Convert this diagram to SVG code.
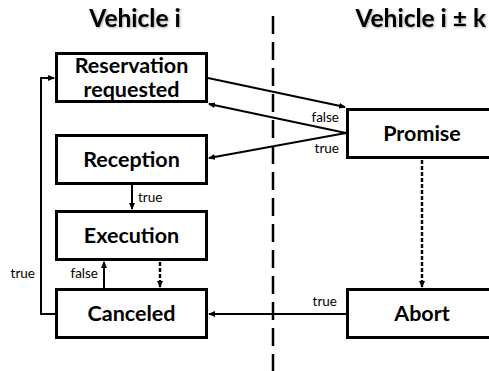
<svg xmlns="http://www.w3.org/2000/svg" width="489" height="371" viewBox="0 0 489 371">
  <style>
    .box { fill: #fff; stroke: #000; stroke-width: 3; }
    .lbl { font-family: Lato, "Open Sans", sans-serif; font-weight: bold; font-size: 21.5px; fill: #000; text-anchor: middle; }
    .title { font-family: Lato, "Open Sans", sans-serif; font-weight: bold; font-size: 24.5px; fill: #000; }
    .small { font-family: Lato, "Open Sans", sans-serif; font-size: 13.5px; fill: #000; }
    .edge { fill: none; stroke: #000; stroke-width: 2; }
    .dash { stroke-width: 2.4; stroke-dasharray: 4 2; }
    .divider { stroke: #000; stroke-width: 2.5; stroke-dasharray: 18 8; }
  </style>
  <defs>
    <marker id="arrow" markerWidth="7" markerHeight="6" refX="6" refY="3" orient="auto" markerUnits="userSpaceOnUse">
      <path d="M0,0 L7,3 L0,6 z" fill="#000"/>
    </marker>
    <filter id="shadow" x="-10%" y="-20%" width="120%" height="150%">
      <feDropShadow dx="1" dy="1" stdDeviation="0.8" flood-color="#000" flood-opacity="0.35"/>
    </filter>
  </defs>

  <!-- column headings -->
  <g id="headings" filter="url(#shadow)">
    <text class="title" x="135" y="27" text-anchor="middle">Vehicle i</text>
    <text class="title" x="486" y="27" text-anchor="end">Vehicle i ± k</text>
  </g>

  <!-- boundary between the two vehicles -->
  <line id="divider" class="divider" x1="273" y1="16" x2="273" y2="371"/>

  <g id="connectors">
    <!-- request to the other vehicle -->
    <line class="edge" x1="208" y1="78" x2="345" y2="107" marker-end="url(#arrow)"/>
    <!-- promise answers -->
    <line class="edge" x1="346" y1="133" x2="209" y2="104" marker-end="url(#arrow)"/>
    <line class="edge" x1="346" y1="133" x2="209" y2="158" marker-end="url(#arrow)"/>
    <text class="small" x="339" y="122" text-anchor="end">false</text>
    <text class="small" x="339" y="153" text-anchor="end">true</text>
    <!-- reception to execution -->
    <line class="edge" x1="132" y1="184" x2="132" y2="209" marker-end="url(#arrow)"/>
    <text class="small" x="138" y="202">true</text>
    <!-- canceled back to execution -->
    <line class="edge" x1="104" y1="288" x2="104" y2="262" marker-end="url(#arrow)"/>
    <text class="small" x="98" y="278" text-anchor="end">false</text>
    <!-- execution to canceled -->
    <line class="edge dash" x1="160" y1="262" x2="160" y2="287" marker-end="url(#arrow)"/>
    <!-- retry loop -->
    <polyline class="edge" points="56,314 41,314 41,78 54,78" marker-end="url(#arrow)"/>
    <text class="small" x="35" y="278" text-anchor="end">true</text>
    <!-- promise to abort -->
    <line class="edge dash" x1="422" y1="160" x2="422" y2="287" marker-end="url(#arrow)"/>
    <!-- abort to canceled -->
    <line class="edge" x1="346" y1="314" x2="209" y2="314" marker-end="url(#arrow)"/>
    <text class="small" x="337" y="306" text-anchor="end">true</text>
  </g>

  <g id="reservation">
    <rect class="box" x="56.5" y="53.5" width="150" height="48"/>
    <text class="lbl" x="131.5" y="73">Reservation</text>
    <text class="lbl" x="131.5" y="97">requested</text>
  </g>
  <g id="reception">
    <rect class="box" x="56.5" y="135.5" width="150" height="48"/>
    <text class="lbl" x="131.5" y="167">Reception</text>
  </g>
  <g id="execution">
    <rect class="box" x="56.5" y="211.5" width="150" height="48"/>
    <text class="lbl" x="131.5" y="243">Execution</text>
  </g>
  <g id="canceled">
    <rect class="box" x="56.5" y="289.5" width="150" height="48"/>
    <text class="lbl" x="131.5" y="321">Canceled</text>
  </g>
  <g id="promise">
    <rect class="box" x="347.5" y="109.5" width="150" height="48"/>
    <text class="lbl" x="422" y="141">Promise</text>
  </g>
  <g id="abort">
    <rect class="box" x="347.5" y="289.5" width="150" height="48"/>
    <text class="lbl" x="422" y="321">Abort</text>
  </g>
</svg>
